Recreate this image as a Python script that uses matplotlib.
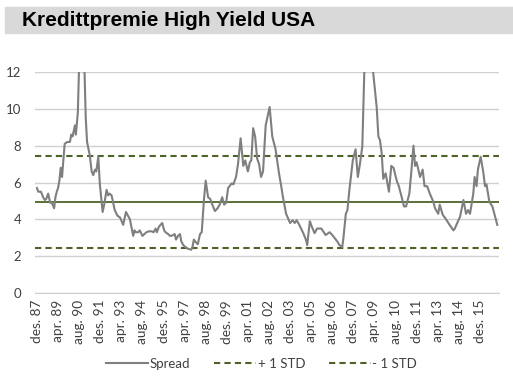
import matplotlib.pyplot as plt
from matplotlib.patches import Rectangle

# months since des. 87 and the spread
months = [0, 1, 3, 5, 6, 7, 8.5, 10, 11, 13, 14, 15, 16, 17, 18, 19, 20, 21, 23, 25,
          26, 27, 28.8, 29.5, 31, 32, 33, 34, 35, 36, 37, 38, 40, 41.5, 42.7, 44, 45, 46.5, 47.7, 49.8,
          51, 52.8, 54, 55, 56.6, 57.5, 59, 61, 63, 65.4, 67.5, 69, 70.5, 73, 74, 75, 76.8, 78, 80, 81.5,
          83, 85, 87, 88.5, 90, 91, 92.5, 95, 96.5, 97.5, 99.5, 101, 102, 104.5, 105.5, 107, 108.5, 109.5, 111, 112.5,
          114.7, 117, 118, 119, 120, 122, 123.7, 125, 126.7, 128, 129.8, 131.5, 133, 135, 137, 138.6, 140.5, 142, 143.5, 145,
          147.7, 149, 151, 152.5, 154.5, 156.5, 158, 160, 161.5, 162.6, 164, 165.5, 167, 168.5, 170, 171.5, 173.5, 176.5, 178.5, 181,
          183.6, 185.3, 186.6, 189, 192, 194, 195.5, 197, 199, 202, 204, 205, 207, 208.5, 210.6, 212.5, 215.7, 219, 222, 224,
          227.8, 229.5, 231.6, 232.5, 234.3, 235.5, 237, 239.6, 241.7, 243.4, 245, 246.8, 248.5, 250, 252, 254, 255, 257.7, 259, 260.2,
          261.5, 262.7, 264.5, 267, 268.8, 270.5, 272.9, 274.5, 276.7, 278.4, 280, 282.5, 284, 285.6, 286.8, 288, 290.6, 292.6, 294, 296,
          298, 300.7, 302, 304.4, 305.5, 307.8, 310.8, 313, 315.9, 317, 318.8, 321, 323.5, 325.5, 327, 328.5, 331, 332, 333.5, 334.5,
          336.6, 338.5, 339.9, 341, 343.2, 345.5, 347.5, 349.2]
spread = [5.7, 5.5, 5.5, 5.15, 5.05, 5.1, 5.4, 4.9, 4.95, 4.6, 5.2, 5.5, 5.7, 6.1, 6.8, 6.3, 7.2, 8.1, 8.2, 8.2,
          8.6, 8.5, 9.1, 8.6, 9.8, 12.5, 14, 14.5, 13.5, 12.2, 9.5, 8.2, 7.5, 6.6, 6.4, 6.7, 6.6, 7.4, 5.9, 4.4,
          4.8, 5.6, 5.3, 5.4, 5.3, 5.0, 4.5, 4.2, 4.1, 3.7, 4.4, 4.2, 4.0, 3.1, 3.4, 3.3, 3.3, 3.4, 3.1, 3.2,
          3.3, 3.35, 3.35, 3.3, 3.5, 3.3, 3.6, 3.8, 3.4, 3.3, 3.2, 3.1, 3.1, 3.2, 2.9, 3.1, 3.2, 2.8, 2.6, 2.5,
          2.4, 2.35, 2.5, 2.9, 2.8, 2.65, 3.2, 3.3, 5.1, 6.1, 5.2, 5.1, 4.8, 4.45, 4.6, 4.8, 5.2, 4.8, 4.9, 5.7,
          5.95, 5.9, 6.3, 7.0, 8.4, 6.9, 7.2, 6.6, 7.1, 7.2, 8.95, 8.5, 7.3, 7.0, 6.3, 6.6, 9.1, 10.1, 8.5, 7.8,
          6.5, 5.8, 5.2, 4.3, 3.8, 3.95, 3.8, 3.95, 3.7, 3.25, 2.9, 2.6, 3.9, 3.6, 3.25, 3.5, 3.5, 3.15, 3.3, 3.15,
          2.8, 2.6, 2.5, 3.0, 4.3, 4.5, 5.6, 7.2, 7.8, 6.3, 7.0, 7.95, 12.5, 16, 19, 14, 12, 10.1, 8.5, 8.3,
          7.6, 6.2, 6.5, 5.5, 6.9, 6.8, 6.1, 5.8, 5.2, 4.7, 4.7, 5.4, 6.6, 8.0, 6.9, 7.1, 6.3, 6.7, 5.8, 5.8,
          5.4, 4.95, 4.6, 4.3, 4.8, 4.25, 3.95, 3.7, 3.4, 3.5, 3.8, 4.15, 5.05, 4.3, 4.5, 4.3, 5.4, 6.3, 5.8, 6.7,
          7.4, 6.6, 5.8, 5.9, 4.95, 4.7, 4.15, 3.7]

mean = 4.95
std = 2.49

tick_labels = ['des. 87', 'apr. 89', 'aug. 90', 'des. 91', 'apr. 93', 'aug. 94', 'des. 95',
               'apr. 97', 'aug. 98', 'des. 99', 'apr. 01', 'aug. 02', 'des. 03', 'apr. 05',
               'aug. 06', 'des. 07', 'apr. 09', 'aug. 10', 'des. 11', 'apr. 13', 'aug. 14', 'des. 15']
tick_pos = [16 * i for i in range(len(tick_labels))]

plt.rcParams['font.family'] = ['Lato', 'DejaVu Sans']

fig = plt.figure(figsize=(5.13, 3.84), dpi=100)

# grey title banner
fig.patches.append(Rectangle((5 / 513, 1 - 33 / 384), 508 / 513, 26 / 384,
                             transform=fig.transFigure, color='#d9d9d9', zorder=0))
fig.text(22 / 513, 1 - 20 / 384, 'Kredittpremie High Yield USA', fontsize=15,
         fontweight='bold', family='Liberation Sans', va='center', ha='left')

ax = fig.add_axes([35 / 513, 1 - 293 / 384, 464 / 513, 221 / 384])
green = '#4f6228'
ax.plot(months, spread, color='#7f7f7f', lw=1.5, label='Spread', zorder=3)
ax.axhline(mean + std, color=green, lw=1.5, ls=(0, (3, 2)), label='+ 1 STD', zorder=2)
ax.axhline(mean - std, color=green, lw=1.5, ls=(0, (3, 2)), label='- 1 STD', zorder=2)
ax.axhline(mean, color=green, lw=1.3, zorder=2)

ax.set_ylim(0, 12)
ax.set_xlim(-1.5, 350.5)
ax.set_yticks(range(0, 13, 2))
ax.set_xticks(tick_pos)
ax.set_xticklabels(tick_labels, rotation=90, fontsize=9.8, color='#404040')
ax.tick_params(axis='y', labelsize=9.5, colors='#404040', length=0, pad=10)
ax.tick_params(axis='x', length=0, pad=5)
ax.grid(axis='y', color='#d0d0d0', lw=1)
ax.set_axisbelow(True)
for s in ['top', 'right', 'left']:
    ax.spines[s].set_visible(False)
ax.spines['bottom'].set_color('#d0d0d0')

fig.legend(loc='center', bbox_to_anchor=(0.51, 1 - 364 / 384), ncol=3, frameon=False,
           fontsize=9.5, handlelength=3.2, handletextpad=0.1, columnspacing=1.8,
           labelcolor='#404040')

plt.savefig('out.png', dpi=100)
